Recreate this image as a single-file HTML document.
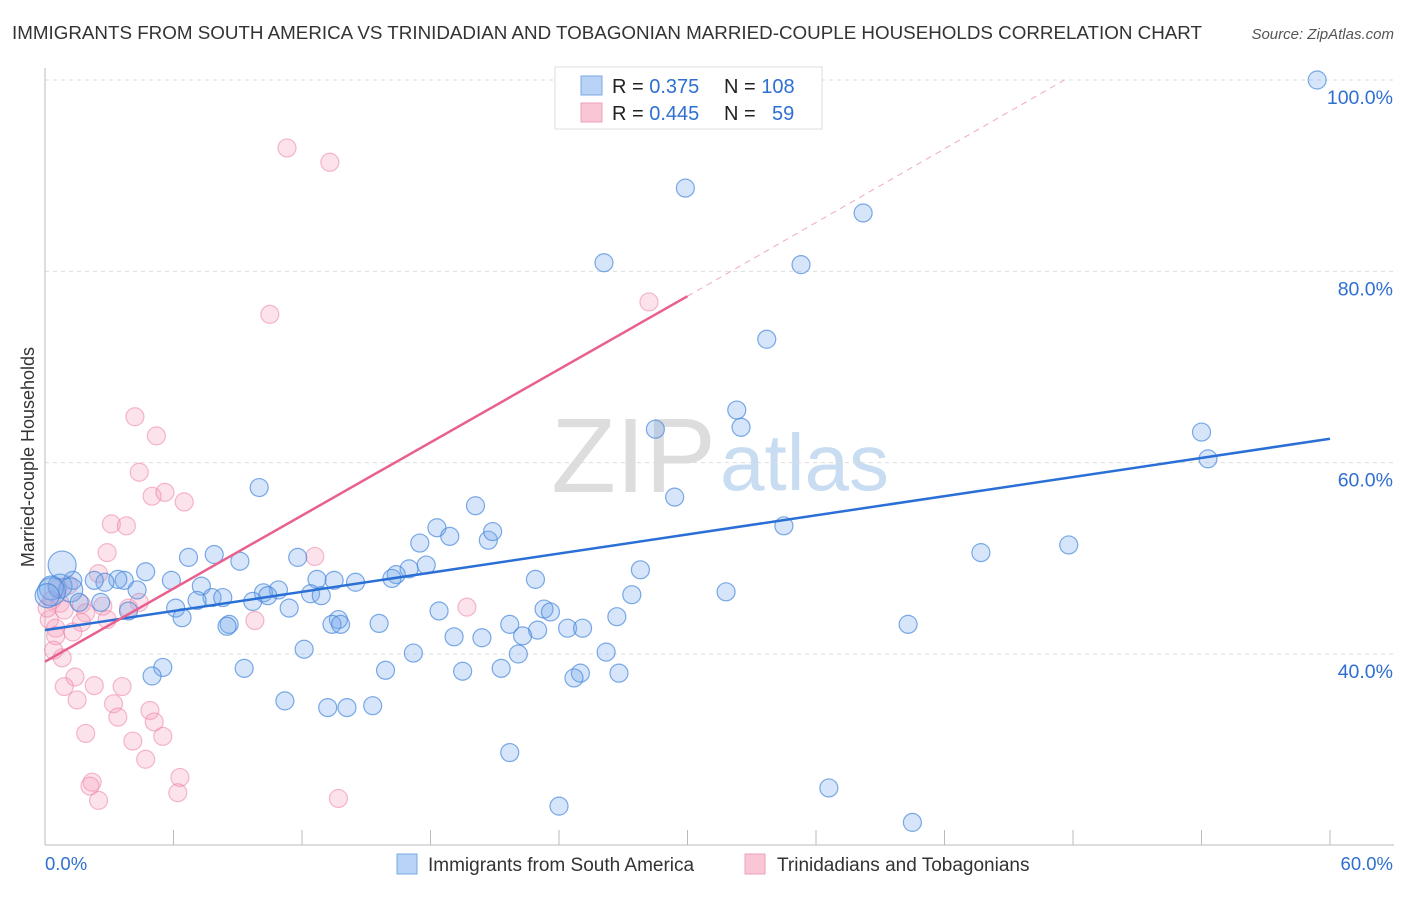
<!DOCTYPE html>
<html><head><meta charset="utf-8"><style>
body{margin:0;background:#fff;font-family:"Liberation Sans",sans-serif;}
svg text{font-family:"Liberation Sans",sans-serif;}
</style></head><body>
<svg id="chart" width="1406" height="892">
<text x="12" y="39" font-size="18.8" fill="#333">IMMIGRANTS FROM SOUTH AMERICA VS TRINIDADIAN AND TOBAGONIAN MARRIED-COUPLE HOUSEHOLDS CORRELATION CHART</text>
<text x="1394" y="39" font-size="15" fill="#555" text-anchor="end" font-style="italic">Source: ZipAtlas.com</text>
<text x="716" y="492" font-size="106" fill="#ddd" text-anchor="end" font-family="Liberation Serif">ZIP</text>
<text x="720" y="490" font-size="80" fill="#c8dcf2">atlas</text>
<g id="grid"></g>
<g id="axes"></g>
<g id="points"></g>
<g id="lines"></g>
<text transform="translate(34,457) rotate(-90)" font-size="18" fill="#333" text-anchor="middle">Married-couple Households</text>
<g>
<rect x="555" y="67" width="267" height="62" fill="#fff" stroke="#ddd"/>
<rect x="581" y="76" width="21" height="19" fill="#b8d3f5" stroke="#7aaae6"/>
<rect x="581" y="103" width="21" height="19" fill="#f9c6d5" stroke="#f0a0b8"/>
<text x="612" y="93" font-size="20" fill="#222">R = <tspan fill="#2f6fd1"> 0.375</tspan><tspan x="724">N = </tspan><tspan fill="#2f6fd1">108</tspan></text>
<text x="612" y="120" font-size="20" fill="#222">R = <tspan fill="#2f6fd1">0.445</tspan><tspan x="724">N = </tspan><tspan fill="#2f6fd1" x="772">59</tspan></text>
</g>
<g>
<rect x="397" y="854" width="20" height="20" fill="#b8d3f5" stroke="#7aaae6"/>
<text x="428" y="871" font-size="19" fill="#333">Immigrants from South America</text>
<rect x="745" y="854" width="20" height="20" fill="#f9c6d5" stroke="#f0a0b8"/>
<text x="777" y="871" font-size="19" fill="#333">Trinidadians and Tobagonians</text>
</g>
</svg>
<script>
const blueX=[59.4,29.9,38.2,26.1,35.3,33.7,32.3,32.5,28.5,54.0,54.3,10.0,29.4,20.1,34.5,18.3,18.9,20.7,20.9,17.5,6.7,7.9,9.1,11.8,43.7,47.8,17.8,4.7,27.8,17.0,16.4,16.2,14.5,13.5,12.7,22.9,5.9,3.7,3.4,2.8,2.3,1.3,0.7,1.2,0.3,0.8,4.3,7.3,10.9,10.2,10.4,12.4,12.9,31.8,27.4,7.8,8.3,7.1,9.7,2.6,1.6,6.1,11.4,23.3,23.6,18.4,6.4,3.9,26.7,13.7,13.4,13.8,15.6,21.7,24.4,25.1,40.3,8.6,8.5,23.0,19.1,20.4,22.3,12.1,17.2,26.2,22.1,5.5,5.0,9.3,15.9,19.5,21.3,25.0,24.7,26.8,11.2,13.2,14.1,15.3,21.7,36.6,24.0,40.5,0.3,0.1];
const blueY=[100,88.7,86.1,80.9,80.7,72.9,65.5,63.7,63.5,63.2,60.4,57.4,56.4,55.5,53.4,53.2,52.3,51.9,52.8,51.6,50.1,50.4,49.7,50.1,50.6,51.4,49.3,48.6,48.8,48.9,48.3,47.9,47.5,47.7,47.8,47.8,47.7,47.7,47.8,47.5,47.7,47.7,47.1,46.7,46.9,49.3,46.7,47.1,46.7,46.4,46.1,46.3,46.1,46.5,46.2,45.9,45.9,45.6,45.5,45.4,45.4,44.8,44.8,44.7,44.4,44.5,43.8,44.5,43.9,43.6,43.1,43.1,43.2,43.1,42.7,42.7,43.1,43.1,42.9,42.5,41.8,41.7,41.9,40.5,40.1,40.2,40.0,38.6,37.7,38.5,38.3,38.2,38.5,38.0,37.5,38.0,35.1,34.4,34.4,34.6,29.7,26.0,24.1,22.4,46.5,46.1];
const blueR=[9,9,9,9,9,9,9,9,9,9,9,9,9,9,9,9,9,9,9,9,9,9,9,9,9,9,9,9,9,9,9,9,9,9,9,9,9,9,9,9,9,9,12,12,12,14,9,9,9,9,9,9,9,9,9,9,9,9,9,9,9,9,9,9,9,9,9,9,9,9,9,9,9,9,9,9,9,9,9,9,9,9,9,9,9,9,9,9,9,9,9,9,9,9,9,9,9,9,9,9,9,9,9,9,14,12];
const pinkX=[11.3,13.3,10.5,28.2,4.2,5.2,4.4,5.0,5.6,6.5,3.1,3.8,2.9,12.6,2.5,1.1,0.6,0.3,0.7,2.7,1.7,19.7,4.4,0.9,1.9,9.8,2.9,0.2,0.5,1.7,1.3,0.5,0.8,0.4,1.4,0.9,2.3,3.6,1.5,3.2,4.9,5.1,3.4,1.9,4.1,5.5,4.7,6.3,2.2,2.1,6.2,2.5,13.7,3.9,0.1];
const pinkY=[92.9,91.4,75.5,76.8,64.8,62.8,59.0,56.5,56.9,55.9,53.6,53.4,50.6,50.2,48.4,47.2,46.9,45.6,45.3,45.0,45.2,44.9,45.4,44.6,44.3,43.5,43.6,43.6,42.7,43.3,42.3,41.9,39.6,40.4,37.6,36.6,36.7,36.6,35.2,34.8,34.1,32.9,33.4,31.7,30.9,31.4,29.0,27.1,26.6,26.2,25.5,24.7,24.9,44.8,44.8];
const yTicks=[40,60,80,100];
const xTickVals=[0,6,12,18,24,30,36,42,48,54,60];
const blueLine=[[0,42.5],[60,62.5]];
const pinkLine=[[0,39.2],[30,77.4]];
const pinkDash=[[30,77.4],[47.6,100]];
const NS='http://www.w3.org/2000/svg';
const sx=v=>45+v*21.417;
const sy=v=>80+(100-v)*9.567;
function mk(tag,attrs,parent){const e=document.createElementNS(NS,tag);for(const k in attrs)e.setAttribute(k,attrs[k]);document.getElementById(parent).appendChild(e);return e;}
yTicks.forEach(t=>{
 const l=mk('line',{x1:45,x2:1394,y1:sy(t),y2:sy(t),stroke:'#ddd','stroke-dasharray':'4,4'},'grid');
 
 
 const tx=mk('text',{x:1393,y:sy(t)+24,'font-size':19.5,fill:'#2f6fd1','text-anchor':'end'},'grid');
 tx.textContent=t.toFixed(1)+'%';
 
 
});
const ax=mk('line',{x1:45,x2:45,y1:68,y2:845,stroke:'#bbb'},'axes');


const bx=mk('line',{x1:45,x2:1394,y1:845,y2:845,stroke:'#bbb'},'axes');


xTickVals.forEach(t=>{
 const l=mk('line',{x1:sx(t),x2:sx(t),y1:830,y2:845,stroke:'#bbb'},'axes');
 
 
});
[[0,'start','0.0%'],[60,'end','60.0%']].forEach(([v,a,s])=>{
 const tx=mk('text',{x:sx(v)+(a==='end'?63:0),y:870,'font-size':18.5,fill:'#2f6fd1','text-anchor':a},'axes');
 tx.textContent=s;
 
 
});
pinkX.forEach((x,i)=>{
 const c=mk('circle',{cx:sx(x),cy:sy(pinkY[i]),r:9,fill:'rgba(244,160,188,0.3)',stroke:'rgba(236,130,165,0.55)','stroke-width':1.2},'points');
 
 
});
blueX.forEach((x,i)=>{
 const c=mk('circle',{cx:sx(x),cy:sy(blueY[i]),r:blueR[i],fill:'rgba(120,170,235,0.3)',stroke:'rgba(70,135,220,0.7)','stroke-width':1.2},'points');
 
 
});
const bl=mk('line',{x1:sx(blueLine[0][0]),y1:sy(blueLine[0][1]),x2:sx(blueLine[1][0]),y2:sy(blueLine[1][1]),stroke:'#2a6fd6','stroke-width':2.5},'lines');


const pl=mk('line',{x1:sx(pinkLine[0][0]),y1:sy(pinkLine[0][1]),x2:sx(pinkLine[1][0]),y2:sy(pinkLine[1][1]),stroke:'#e8608e','stroke-width':2.5},'lines');


const pd=mk('line',{x1:sx(pinkDash[0][0]),y1:sy(pinkDash[0][1]),x2:sx(pinkDash[1][0]),y2:sy(pinkDash[1][1]),stroke:'#f0a8c0','stroke-width':1,'stroke-dasharray':'6,5'},'lines');


</script>
</body></html>
